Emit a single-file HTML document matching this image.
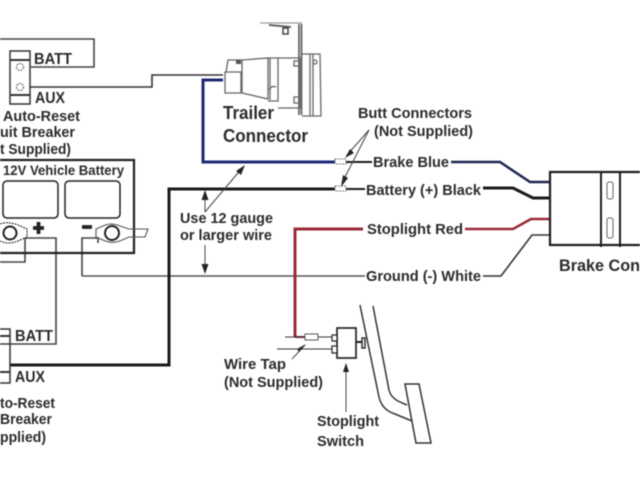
<!DOCTYPE html>
<html>
<head>
<meta charset="utf-8">
<style>
html,body{margin:0;padding:0;background:#fff;width:640px;height:480px;overflow:hidden}
svg{display:block;filter:blur(0.45px)}
text{font-family:"Liberation Sans",sans-serif;font-weight:bold;fill:#2b2b2b}
.w{fill:none;stroke-linejoin:miter}
</style>
</head>
<body>
<svg width="640" height="480" viewBox="0 0 640 480" xmlns="http://www.w3.org/2000/svg">
<!-- thin wires -->
<g class="w" stroke="#444" stroke-width="1.6">
<path d="M0 39H94V67H31"/>
<path d="M30 87H152V75H223" stroke="#333"/>
<path d="M82 276H365" stroke="#555"/>
<path d="M82 276V238H98V243"/>
<path d="M25 238H56V344H10"/>
<path d="M0 262H25V238"/>
<path d="M483 276H501L532 235H549" stroke="#333"/>
</g>
<!-- thick black -->
<g class="w" stroke="#1b1b1b" stroke-width="3">
<path d="M335 189H169V365H10"/>
<path d="M346 189H365" stroke-width="2"/>
<path d="M483 188H513L533 198H549"/>
<path d="M345 162H372" stroke-width="2"/>
<path d="M203 80H223" stroke-width="2"/>
</g>
<!-- blue -->
<g class="w" stroke="#1c2a78" stroke-width="3">
<path d="M223 80H203V162H335"/>
<path d="M451 162H500L530 182H549" stroke="#1d2450" stroke-width="2.5"/>
</g>
<!-- red -->
<g class="w" stroke="#9c2a3a" stroke-width="3">
<path d="M295 337V229H363"/>
<path d="M295 337H306" stroke="#8a2030" stroke-width="2"/>
<path d="M465 229H513L531 219H549" stroke-width="2.5"/>
</g>
<!-- butt connectors -->
<g fill="#fff" stroke="#777" stroke-width="1">
<rect x="335" y="159" width="11" height="5" stroke-dasharray="2 1"/>
<rect x="335" y="186" width="11" height="5" stroke-dasharray="2 1"/>
</g>
<!-- top breaker -->
<g fill="#fff" stroke="#333" stroke-width="1.5">
<rect x="10" y="51" width="20" height="53"/>
<path d="M10 60H30M10 95H30" fill="none" stroke-width="2"/>
<circle cx="20" cy="67" r="3.500" stroke="#888" stroke-dasharray="2 1"/>
<circle cx="20" cy="87" r="3.500" stroke="#888" stroke-dasharray="2 1"/>
</g>
<!-- bottom breaker -->
<g fill="#fff" stroke="#333" stroke-width="1.5">
<path d="M0 329H10V383H0"/>
<path d="M0 336H10M0 372H10" fill="none" stroke-width="2"/>
</g>
<path d="M10 344H0" stroke="#333" stroke-width="1.400"/>
<!-- battery -->
<g fill="none" stroke="#222">
<path d="M0 160H134V253H0" stroke-width="2.200"/>
<rect x="3" y="181" width="55" height="37" rx="4" stroke-width="1.500"/>
<rect x="65" y="181" width="55" height="37" rx="4" stroke-width="1.500"/>
<circle cx="10" cy="233" r="6.500" stroke-width="2"/>
<circle cx="112" cy="233" r="7" stroke-width="2"/>
<path d="M0 224Q8 221 18 225L27 229V237L18 241Q8 245 0 241" stroke-width="1.100" stroke-dasharray="2 1"/>
<path d="M96 229L103 226Q111 222 120 226L129 229H148L145 237H129L120 241Q111 244 103 240L96 237Z" stroke-width="1.100" stroke="#555"/>
</g>
<path d="M33 228H44M38.500 222V234" stroke="#222" stroke-width="3.800" fill="none"/>
<path d="M82 227H92" stroke="#222" stroke-width="3.800" fill="none"/>
<!-- trailer connector -->
<g fill="none" stroke="#666" stroke-width="1.300">
<path d="M225 72H241V93H225Z"/>
<path d="M226 72L228 60H242L268 58V99L242 93V60"/>
<path d="M268 58H278V101H268M270 58V100"/>
<path d="M278 58H300V108H278"/>
<path d="M299 24V115M301.500 24V115" stroke-width="1.800"/>
<path d="M260 23H302" stroke-width="1.200" stroke="#999"/>
<path d="M269 25L291 27" stroke-width="1.800" stroke="#555"/>
<rect x="283" y="28" width="5" height="6" stroke-width="1.500" stroke="#444"/>
<path d="M302 54H320L321 116H302"/>
<path d="M310 54V116M313 54V116"/>
<rect x="294" y="61" width="5" height="5"/>
<rect x="294" y="97" width="5" height="6"/>
<circle cx="315" cy="62" r="2"/>
<path d="M269 90Q272 85 276 87"/>
</g>
<path d="M236 60h5v4h-5z" fill="#555"/>
<!-- brake controller -->
<g fill="none" stroke="#1e1e1e">
<path d="M640 172H550V245H640" stroke-width="2.200"/>
<path d="M601 171V247M620 171V247" stroke-width="2"/>
<rect x="607" y="182" width="6" height="17" rx="2" stroke-width="1" stroke="#666"/>
<rect x="607" y="218" width="6" height="20" rx="2" stroke-width="1" stroke="#666"/>
</g>
<!-- pedal -->
<g fill="none" stroke="#333" stroke-width="1.500">
<path d="M360 305L379 397Q382 410 395 414L412 421"/>
<path d="M373 306L389 390Q391 398 400 402L407 405"/>
<path d="M405 384H419L431 443H416Z"/>
</g>
<!-- switch -->
<g fill="#fff" stroke="#222" stroke-width="1.700">
<rect x="337" y="328" width="19" height="30"/>
<rect x="332" y="335" width="5" height="6" stroke-width="1.200"/>
<rect x="332" y="346" width="5" height="7" stroke-width="1.200"/>
<rect x="362" y="338" width="3" height="10" stroke-width="1.400"/>
</g>
<path d="M356 342H362" stroke="#222" stroke-width="2"/>
<g fill="none" stroke="#333" stroke-width="1.100">
<path d="M285 337H306M318 337H332"/>
<path d="M277 349H332"/>
</g>
<rect x="305" y="334" width="13" height="6" fill="#fff" stroke="#555" stroke-width="1"/>
<!-- arrows -->
<g stroke="#444" stroke-width="1" fill="none">
<path d="M369 130L347 155"/>
<path d="M369 130L342 183"/>
<path d="M205 212L243 167"/>
<path d="M205 192V212M205 245V272"/>
<path d="M292 359L305 345"/>
<path d="M346 364V412"/>
</g>
<g fill="#222">
<path d="M345 158L350 149L354 153Z"/>
<path d="M341 187L343 175L348 178Z"/>
<path d="M245 165L241 175L236 171Z"/>
<path d="M205 190L208.500 200H201.500Z"/>
<path d="M205 274L201.500 264H208.500Z"/>
<path d="M306 344L299 352L297 349Z"/>
<path d="M346 363L349 372H343Z"/>
</g>
<!-- labels -->
<g font-size="15">
<text x="34" y="64" font-size="16" textLength="38" lengthAdjust="spacingAndGlyphs">BATT</text>
<text x="35" y="103" font-size="16" textLength="30" lengthAdjust="spacingAndGlyphs">AUX</text>
<text x="3" y="121" font-size="15" textLength="77" lengthAdjust="spacingAndGlyphs">Auto-Reset</text>
<text x="0" y="137" font-size="15" textLength="75" lengthAdjust="spacingAndGlyphs">uit Breaker</text>
<text x="0" y="154" font-size="15" textLength="71" lengthAdjust="spacingAndGlyphs">t Supplied)</text>
<text x="3" y="175" font-size="13.500" textLength="121" lengthAdjust="spacingAndGlyphs">12V Vehicle Battery</text>
<text x="15" y="341" font-size="16" textLength="38" lengthAdjust="spacingAndGlyphs">BATT</text>
<text x="15" y="382" font-size="16" textLength="30" lengthAdjust="spacingAndGlyphs">AUX</text>
<text x="0" y="408" font-size="15" textLength="55" lengthAdjust="spacingAndGlyphs">to-Reset</text>
<text x="0" y="424" font-size="15" textLength="52" lengthAdjust="spacingAndGlyphs">Breaker</text>
<text x="0" y="442" font-size="15" textLength="46" lengthAdjust="spacingAndGlyphs">pplied)</text>
<text x="223" y="119" font-size="18" textLength="51" lengthAdjust="spacingAndGlyphs">Trailer</text>
<text x="223" y="142" font-size="18" textLength="85" lengthAdjust="spacingAndGlyphs">Connector</text>
<text x="358" y="118" font-size="15" textLength="114" lengthAdjust="spacingAndGlyphs">Butt Connectors</text>
<text x="374" y="136" font-size="15" textLength="99" lengthAdjust="spacingAndGlyphs">(Not Supplied)</text>
<text x="373" y="167" font-size="15" textLength="76" lengthAdjust="spacingAndGlyphs">Brake Blue</text>
<text x="366" y="195" font-size="15" textLength="115" lengthAdjust="spacingAndGlyphs">Battery (+) Black</text>
<text x="367" y="234" font-size="15" textLength="96" lengthAdjust="spacingAndGlyphs">Stoplight Red</text>
<text x="366" y="281" font-size="15" textLength="115" lengthAdjust="spacingAndGlyphs">Ground (-) White</text>
<text x="559" y="271" font-size="17" textLength="81" lengthAdjust="spacingAndGlyphs">Brake Con</text>
<text x="180" y="223" font-size="15" textLength="93" lengthAdjust="spacingAndGlyphs">Use 12 gauge</text>
<text x="180" y="240" font-size="15" textLength="92" lengthAdjust="spacingAndGlyphs">or larger wire</text>
<text x="224" y="369" font-size="15" textLength="62" lengthAdjust="spacingAndGlyphs">Wire Tap</text>
<text x="224" y="387" font-size="15" textLength="99" lengthAdjust="spacingAndGlyphs">(Not Supplied)</text>
<text x="317" y="426" font-size="15" textLength="62" lengthAdjust="spacingAndGlyphs">Stoplight</text>
<text x="317" y="446" font-size="15" textLength="47" lengthAdjust="spacingAndGlyphs">Switch</text>
</g>
</svg>
</body>
</html>
